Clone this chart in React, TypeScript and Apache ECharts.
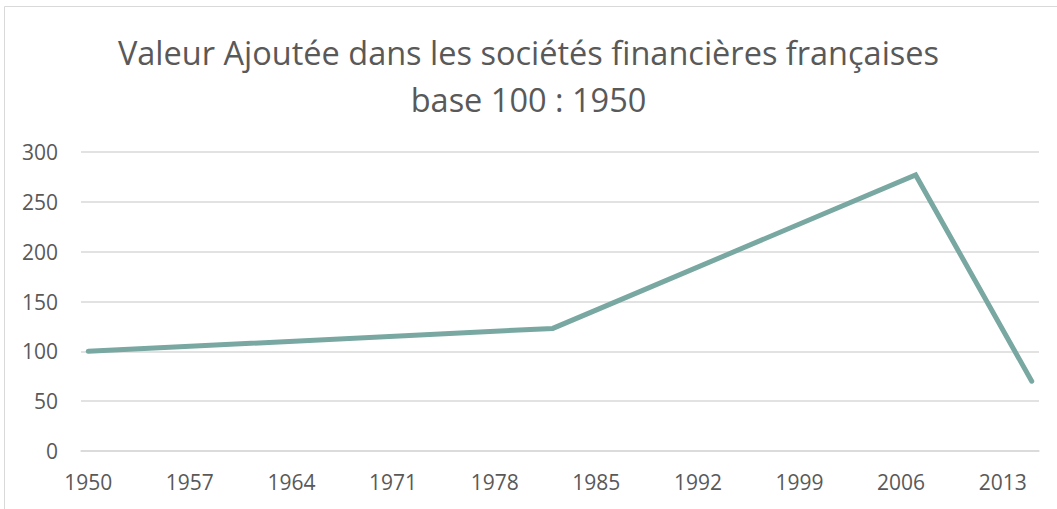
import React, { useEffect, useRef } from "react";
import * as echarts from "echarts";

const titleLine1 = "Valeur Ajoutée dans les sociétés financières françaises";
const titleLine2 = "base 100 : 1950";
const firstYear = 1950;
const lastYear = 2015;
const pointYears = [1950, 1982, 2007, 2015];
const pointValues = [100, 123, 277, 70];
const yTicks = [0, 50, 100, 150, 200, 250, 300];

export default function App() {
  const ref = useRef<HTMLDivElement>(null);
  useEffect(() => {
    if (!ref.current) return;
    const chart = echarts.init(ref.current, undefined, { renderer: "svg" });
    const categories: string[] = [];
    for (let y = firstYear; y <= lastYear; y++) categories.push(String(y));
    const data = categories.map((c) => {
      const i = pointYears.indexOf(Number(c));
      return i >= 0 ? pointValues[i] : null;
    });
    const font = "'Open Sans', Lato, sans-serif";
    chart.setOption({
      animation: false,
      backgroundColor: "#ffffff",
      title: {
        text: titleLine1 + "\n" + titleLine2,
        left: "center",
        top: 24,
        textStyle: {
          fontFamily: font,
          fontSize: 32.5,
          fontWeight: "normal",
          color: "#595959",
          lineHeight: 47,
        },
      },
      graphic: [
        {
          type: "rect",
          shape: { x: 4.5, y: 6.5, width: 1200, height: 700 },
          style: { fill: "none", stroke: "#d9d9d9", lineWidth: 1 },
          silent: true,
        },
      ],
      grid: { left: 81, right: 18, top: 152, bottom: 58 },
      xAxis: {
        type: "category",
        data: categories,
        boundaryGap: true,
        axisLine: { show: true, lineStyle: { color: "#d9d9d9", width: 1.5 } },
        axisTick: { show: false },
        axisLabel: {
          interval: 6,
          margin: 20,
          fontFamily: font,
          fontSize: 21,
          color: "#595959",
        },
      },
      yAxis: {
        type: "value",
        min: yTicks[0],
        max: yTicks[yTicks.length - 1],
        interval: 50,
        axisLine: { show: false },
        axisTick: { show: false },
        splitLine: { lineStyle: { color: "#d9d9d9", width: 1.5 } },
        axisLabel: {
          margin: 23,
          fontFamily: font,
          fontSize: 21,
          color: "#595959",
        },
      },
      series: [
        {
          type: "line",
          data,
          connectNulls: true,
          showSymbol: false,
          symbol: "none",
          lineStyle: { color: "#78a8a1", width: 5, cap: "round", join: "miter" },
        },
      ],
    });
    return () => chart.dispose();
  }, []);
  return (
    <div
      ref={ref}
      style={{ position: "absolute", left: 0, top: 0, width: 1057, height: 509 }}
    />
  );
}
